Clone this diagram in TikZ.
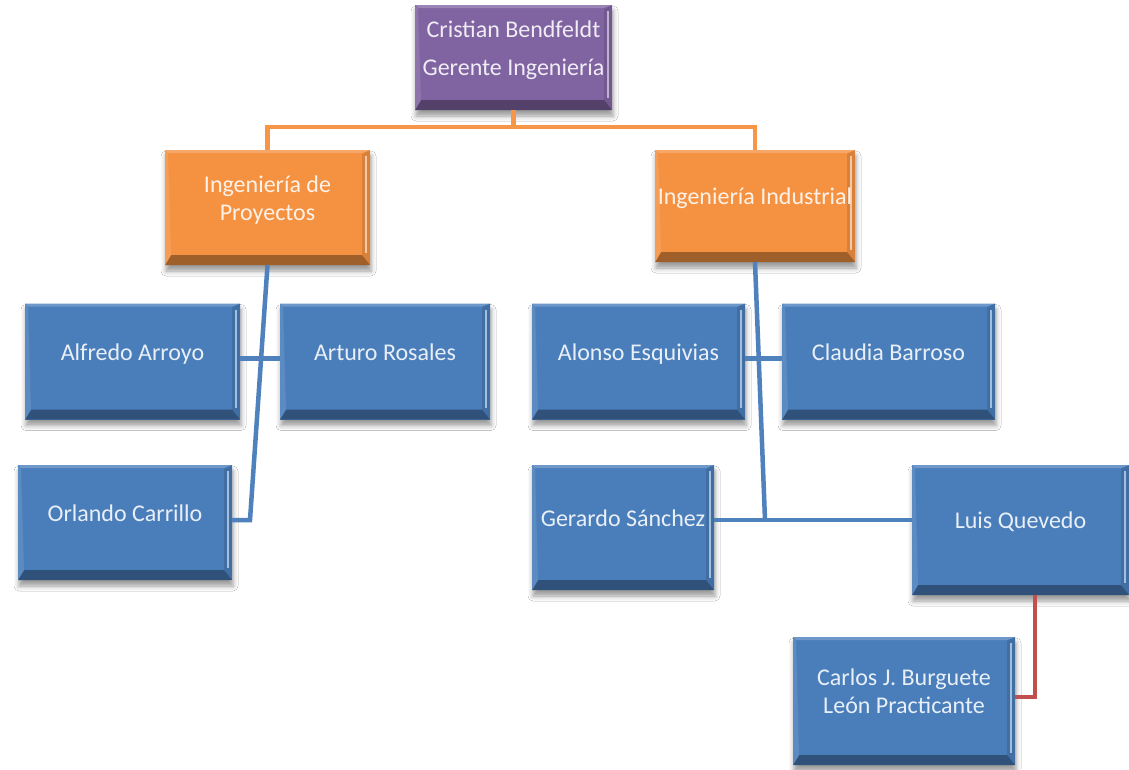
\documentclass[tikz,border=0pt]{standalone}
\usepackage{fontspec}
\setmainfont{Carlito}
\usetikzlibrary{shadows.blur}

\definecolor{cblue}{RGB}{74,126,187}
\definecolor{corange}{RGB}{245,146,66}
\definecolor{cpurple}{RGB}{128,100,162}
\definecolor{lblue}{RGB}{79,129,189}
\definecolor{lorange}{RGB}{247,150,70}
\definecolor{lred}{RGB}{192,80,77}

\tikzset{
  % bevelled box with a soft shadow underneath
  card/.style={rectangle, fill=#1, text=white!88!#1, align=center, inner sep=0pt,
    font=\fontsize{24}{28}\selectfont, text depth=19pt,
    blur shadow={shadow xshift=1pt, shadow yshift=-6pt, shadow blur radius=5pt, shadow opacity=40},
    path picture={
      \coordinate (bsw) at (path picture bounding box.south west);
      \coordinate (bse) at (path picture bounding box.south east);
      \coordinate (bne) at (path picture bounding box.north east);
      \coordinate (bnw) at (path picture bounding box.north west);
      \fill[#1!88!black] (bse) -- (bne) -- ([shift={(-8pt,-4pt)}]bne) -- ([shift={(-8pt,10pt)}]bse) -- cycle;
      \fill[#1!65!black] (bsw) -- (bse) -- ([shift={(-8pt,10pt)}]bse) -- ([shift={(6pt,10pt)}]bsw) -- cycle;
      \fill[#1!80!white] (bnw) -- (bne) -- ([shift={(-8pt,-3pt)}]bne) -- ([shift={(3pt,-3pt)}]bnw) -- cycle;
      \fill[#1!90!white] (bnw) -- ([shift={(3pt,-3pt)}]bnw) -- ([shift={(6pt,10pt)}]bsw) -- (bsw) -- cycle;
      \draw[#1!50!white, line width=1.5pt] ([shift={(-4pt,-6pt)}]bne) -- ([shift={(-4pt,12pt)}]bse);
    }},
  link/.style={line width=4.5pt, draw=#1},
}

\begin{document}
\begin{tikzpicture}[x=1pt,y=-1pt]
\useasboundingbox[fill=white] (0,0) rectangle (1129,769);

% management
\node[card=cpurple, minimum width=197pt, minimum height=105pt,
      font=\fontsize{24}{38}\selectfont] (top) at (513.5,57.5) {Cristian Bendfeldt\\Gerente Ingeniería};

% departments
\node[card=corange, minimum width=205pt, minimum height=115pt] (pro) at (267.5,207.5) {Ingeniería de\\Proyectos};
\node[card=corange, minimum width=200pt, minimum height=112pt] (ind) at (755,206) {Ingeniería Industrial};

% Ingeniería de Proyectos staff
\node[card=cblue, minimum width=215pt, minimum height=116pt] (alf) at (132.5,361.5) {Alfredo Arroyo};
\node[card=cblue, minimum width=210pt, minimum height=116pt] (art) at (385,361.5) {Arturo Rosales};
\node[card=cblue, minimum width=214pt, minimum height=115pt] (orl) at (125,522.5) {Orlando Carrillo};

% Ingeniería Industrial staff
\node[card=cblue, minimum width=213pt, minimum height=116pt] (alo) at (638.5,361.5) {Alonso Esquivias};
\node[card=cblue, minimum width=213pt, minimum height=116pt] (cla) at (888.5,361.5) {Claudia Barroso};
\node[card=cblue, minimum width=182pt, minimum height=125pt] (ger) at (623,527.5) {Gerardo Sánchez};
\node[card=cblue, minimum width=217pt, minimum height=130pt] (lui) at (1020.5,530) {Luis Quevedo};
\node[card=cblue, minimum width=222pt, minimum height=128pt] (car) at (904,701) {Carlos J. Burguete\\León Practicante};

% connectors from management
\draw[link=lorange] (top.south) -- ++(0,17) -| (pro.north);
\draw[link=lorange] (top.south) ++(0,17) -| (ind.north);

% Ingeniería de Proyectos branch
\coordinate (jl) at (250,520);
\draw[link=lblue] (pro.south) -- (jl) -- (orl.east |- jl);
\draw[link=lblue] ([yshift=3pt]alf.east) -- ([yshift=3pt]art.west);

% Ingeniería Industrial branch
\coordinate (jr) at (765,520);
\draw[link=lblue] (ind.south) -- (jr);
\draw[link=lblue] (ger.east |- jr) -- (lui.west |- jr);
\draw[link=lblue] ([yshift=3pt]alo.east) -- ([yshift=3pt]cla.west);

% trainee
\coordinate (rc) at (1035,697);
\draw[link=lred] (lui.south -| rc) -- (rc) -- (car.east |- rc);
\end{tikzpicture}
\end{document}
